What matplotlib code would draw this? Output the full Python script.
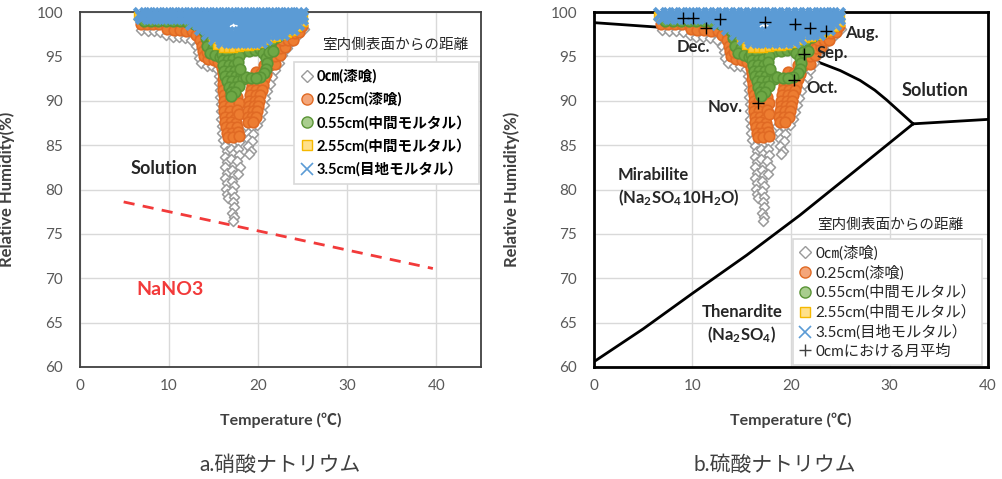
import matplotlib
matplotlib.use('Agg')
import numpy as np
import matplotlib.pyplot as plt
from matplotlib.lines import Line2D

plt.rcParams['font.family'] = ['Lato', 'Noto Sans CJK JP', 'DejaVu Sans']
plt.rcParams['mathtext.default'] = 'regular'

# Measured RH vs temperature, read off the picture (T degC, RH %)
# 0cm (plaster) - grey diamonds
pts_0 = np.array([
    (6.9, 98.0), (7.6, 97.9), (8.3, 97.9), (9.0, 97.8), (9.7, 97.4), (10.4, 97.2), (11.1, 97.2),
    (11.8, 97.1), (12.5, 96.8), (13.0, 96.2), (13.2, 95.5), (13.3, 94.8), (13.6, 94.2), (14.2, 93.9),
    (14.8, 93.9), (15.4, 93.6), (15.6, 92.8), (15.6, 92.0), (15.7, 91.2), (15.7, 90.4), (15.8, 89.6),
    (15.8, 88.8), (15.8, 88.0), (15.9, 87.2), (15.9, 86.4), (16.0, 85.6), (16.6, 85.3), (17.2, 85.2),
    (17.8, 85.3),
    (16.3, 84.9), (16.5, 84.3), (16.3, 83.7), (16.5, 83.1), (16.3, 82.5), (16.5, 81.9), (16.3, 81.3),
    (16.5, 80.7), (16.4, 80.1), (16.5, 79.5), (16.6, 79.0),
    (17.0, 84.6), (17.2, 84.0), (17.0, 83.4), (17.3, 82.8), (17.1, 82.2), (17.3, 81.6), (17.1, 81.0),
    (17.3, 80.4), (17.1, 79.8), (17.3, 79.2), (17.2, 78.6), (17.3, 78.0), (17.1, 77.4), (17.3, 76.9),
    (17.2, 76.4),
    (17.7, 84.6), (17.8, 83.9), (17.6, 83.2), (17.9, 82.5), (17.7, 81.8),
    (18.6, 87.1), (19.3, 87.0), (18.8, 86.4), (19.4, 86.3), (18.9, 85.7), (19.3, 85.5), (18.9, 84.9),
    (19.2, 84.3), (19.0, 84.0),
    (25.1, 98.1), (24.5, 97.4), (23.8, 96.7), (23.2, 95.9), (22.7, 95.1), (22.3, 94.3), (21.9, 93.5),
    (21.6, 92.7), (21.3, 91.9), (21.0, 91.1), (20.8, 90.3), (20.6, 89.5), (20.4, 88.7), (20.2, 87.9),
    (19.9, 87.3),
])

# 0.25cm (plaster) - orange circles
pts_025 = np.array([
    (6.8, 98.7), (7.5, 98.7), (8.2, 98.7), (8.9, 98.7), (9.6, 98.6), (10.3, 98.6), (11.0, 98.6),
    (11.7, 98.6), (12.4, 98.5), (9.8, 98.1), (10.5, 98.0), (11.2, 98.0), (11.9, 97.9), (12.6, 97.9),
    (13.0, 97.4), (13.6, 97.3), (13.5, 96.8), (13.7, 96.2), (13.8, 95.6), (13.9, 95.0), (14.4, 94.7),
    (15.0, 94.6), (15.5, 94.4), (14.3, 96.3), (14.2, 95.5),
    (15.9, 93.7), (16.0, 93.1), (16.5, 93.0), (16.0, 92.5), (16.6, 92.4), (16.1, 91.9), (16.7, 91.8),
    (17.2, 91.8), (16.1, 91.2), (16.7, 91.2), (17.2, 91.3), (16.2, 90.6), (16.8, 90.6), (16.2, 90.0),
    (16.8, 90.0), (16.2, 89.4), (16.8, 89.4), (16.2, 88.8), (16.8, 88.8), (16.3, 88.2), (16.9, 88.2),
    (17.4, 88.0), (16.3, 87.6), (16.9, 87.6), (17.5, 87.5), (16.4, 87.0), (17.0, 87.0), (17.6, 87.0),
    (16.5, 86.4), (17.1, 86.4), (17.7, 86.5), (16.6, 85.9), (17.2, 85.9), (17.8, 86.0),
    (17.6, 90.4), (17.8, 89.7), (17.6, 89.0), (17.8, 88.5),
    (19.7, 93.2), (20.3, 93.1), (20.9, 93.0), (19.5, 92.5), (20.1, 92.4), (20.7, 92.4), (19.3, 91.8),
    (19.9, 91.8), (20.5, 91.8), (19.2, 91.2), (19.8, 91.2), (20.4, 91.2), (19.1, 90.6), (19.7, 90.6),
    (20.2, 90.6), (19.0, 90.0), (19.6, 90.0), (20.1, 90.0), (19.0, 89.4), (19.5, 89.4), (20.0, 89.4),
    (18.9, 88.8), (19.4, 88.8), (19.9, 88.8), (18.8, 88.2), (19.3, 88.2), (19.8, 88.2), (18.9, 87.6),
    (19.4, 87.6),
    (20.7, 94.0), (21.3, 94.0), (21.9, 94.1), (21.3, 95.0), (21.9, 95.0), (22.4, 95.1), (21.9, 96.0),
    (22.5, 96.0), (23.0, 96.1), (22.7, 96.8), (23.3, 96.8), (23.9, 96.9), (23.5, 97.6), (24.1, 97.6),
    (24.6, 97.7), (24.3, 98.3), (24.9, 98.4),
])

# 0.55cm (intermediate mortar) - green circles
pts_055 = np.array([
    (7.2, 99.0), (8.0, 99.0), (8.8, 99.0), (9.6, 99.0), (10.4, 99.0), (11.2, 99.0), (12.0, 98.9),
    (12.8, 98.6),
    (13.9, 97.9), (14.5, 97.6), (15.1, 97.4), (14.1, 97.1), (14.7, 96.8), (15.3, 96.6), (14.3, 96.2),
    (14.9, 96.0), (15.5, 95.8), (14.6, 95.4), (15.2, 95.2), (15.7, 94.9),
    (15.9, 95.3), (16.5, 95.3), (16.0, 94.6), (16.6, 94.6), (17.2, 94.7), (16.1, 94.0), (16.7, 94.0),
    (17.3, 94.0), (16.2, 93.4), (16.8, 93.4), (17.4, 93.4), (16.3, 92.8), (16.9, 92.8), (17.5, 92.8),
    (18.1, 92.9), (16.5, 92.2), (17.1, 92.2), (17.7, 92.2), (18.3, 92.4), (16.7, 91.6), (17.3, 91.6),
    (17.8, 91.7), (16.9, 91.0), (17.4, 91.0), (17.0, 90.5),
    (17.8, 95.6), (18.4, 95.6), (19.0, 95.6), (19.6, 95.7), (20.2, 95.8), (20.8, 96.0),
    (20.5, 95.4), (20.9, 94.8), (21.0, 94.2), (20.9, 93.6), (20.7, 93.1), (20.2, 92.7),
    (18.6, 92.7), (19.2, 92.6), (19.7, 92.6),
    (17.8, 95.0), (17.7, 94.4), (17.9, 93.6),
    (21.3, 96.2), (21.5, 96.9), (22.1, 97.2), (22.7, 97.5), (21.2, 95.5), (21.7, 95.6),
])

# 2.55cm (intermediate mortar) - yellow squares
pts_255 = np.array([
    (15.4, 96.3), (16.0, 96.0), (16.6, 95.9), (17.2, 95.9), (17.8, 96.1), (18.4, 96.2), (19.0, 96.2),
    (19.6, 96.3), (20.2, 96.5), (20.8, 96.8), (21.4, 97.1), (22.0, 97.2), (22.6, 97.4), (23.2, 97.6),
    (23.8, 97.9), (24.4, 98.3), (25.0, 98.9), (25.0, 99.6), (6.5, 99.6), (14.9, 97.0),
])

# 3.5cm (joint mortar) - blue crosses
pts_35 = np.array([
    (6.7, 99.8), (7.4, 99.8), (8.1, 99.8), (8.8, 99.8), (9.5, 99.8), (10.2, 99.8), (10.9, 99.8),
    (11.6, 99.8), (12.3, 99.8), (13.0, 99.8), (13.7, 99.8), (14.4, 99.8), (15.1, 99.8), (15.8, 99.8),
    (16.5, 99.8), (17.2, 99.8), (17.9, 99.8), (18.6, 99.8), (19.3, 99.8), (20.0, 99.8), (20.7, 99.8),
    (21.4, 99.8), (22.1, 99.8), (22.8, 99.8), (23.5, 99.8), (24.2, 99.8), (24.8, 99.8),
    (7.0, 99.4), (7.7, 99.4), (8.4, 99.4), (9.1, 99.4), (9.8, 99.4), (10.5, 99.4), (11.2, 99.4),
    (11.9, 99.4), (12.6, 99.4), (13.3, 99.4), (14.0, 99.4), (14.7, 99.4), (15.4, 99.4), (16.1, 99.4),
    (16.8, 99.4), (17.5, 99.4), (18.1, 99.4), (18.7, 99.4), (19.4, 99.4), (20.1, 99.4), (20.8, 99.4),
    (21.5, 99.4), (22.2, 99.4), (22.9, 99.4), (23.6, 99.4), (24.3, 99.4), (24.8, 99.3),
    (12.6, 98.8), (13.3, 98.8), (14.0, 98.8), (14.7, 98.8), (15.4, 98.8), (16.0, 98.8), (18.3, 98.8),
    (18.9, 98.8), (19.6, 98.8), (20.3, 98.8), (21.0, 98.8), (21.7, 98.8), (22.4, 98.8), (23.1, 98.8),
    (23.8, 98.8), (24.4, 98.8),
    (13.6, 98.2), (14.3, 98.2), (15.0, 98.2), (15.7, 98.2), (16.2, 98.2), (18.3, 98.2), (19.0, 98.2),
    (19.7, 98.2), (20.4, 98.2), (21.1, 98.2), (21.8, 98.2), (22.5, 98.2), (23.2, 98.2), (23.8, 98.2),
    (14.4, 97.6), (15.1, 97.6), (15.8, 97.6), (16.5, 97.6), (17.2, 97.6), (17.9, 97.6), (18.6, 97.6),
    (19.3, 97.6), (20.0, 97.6), (20.7, 97.6), (21.4, 97.6), (22.1, 97.6), (22.7, 97.6),
    (15.2, 97.1), (15.9, 97.1), (16.6, 97.1), (17.3, 97.1), (18.0, 97.1), (18.7, 97.1), (19.4, 97.1),
    (20.1, 97.1), (20.8, 97.1),
    (16.0, 96.7), (16.7, 96.7), (17.4, 96.7), (18.1, 96.7), (18.8, 96.7), (19.5, 96.7), (20.2, 96.7),
])

# monthly means at 0cm
mon_t = [9.0, 10.1, 11.4, 12.8, 17.4, 20.4, 21.9, 23.6, 21.3, 20.3, 16.7]
mon_rh = [99.3, 99.3, 98.2, 99.2, 98.9, 98.7, 98.2, 97.9, 95.3, 92.3, 89.8]

# NaNO3 deliquescence line
nano3_t = [4.9, 39.6]
nano3_rh = [78.6, 71.1]

# Na2SO4 phase boundaries
mira_sol_t = [0, 6.4, 9.0, 14.0, 17.9, 22.9, 25.0, 27.0, 28.5, 29.7, 31.0, 32.4]
mira_sol_rh = [98.8, 98.3, 98.0, 97.2, 96.1, 94.3, 93.4, 92.3, 91.2, 90.1, 88.8, 87.4]
then_sol_t = [32.4, 40.0]
then_sol_rh = [87.4, 87.9]
mira_then_t = [0, 5.0, 10.0, 15.5, 20.9, 26.5, 32.4]
mira_then_rh = [60.6, 64.3, 68.3, 72.6, 77.1, 82.1, 87.4]

labels_L = ['0㎝(漆喰)', '0.25cm(漆喰)', '0.55cm(中間モルタル）', '2.55cm(中間モルタル）', '3.5cm(目地モルタル）']
label_mon = '0cmにおける月平均'

styles = [
    dict(marker='D', s=26, facecolors='white', edgecolors='#9A9A9A', linewidths=1.1),
    dict(marker='o', s=58, facecolors='#ED7D31', edgecolors='#E06A24', linewidths=1.2),
    dict(marker='o', s=58, facecolors='#6EA846', edgecolors='#5A9436', linewidths=1.2),
    dict(marker='s', s=40, facecolors='#FFC83A', edgecolors='#F5B800', linewidths=1.0),
    dict(marker='x', s=80, color='#5B9BD5', linewidths=3.0),
]
series = [pts_0, pts_025, pts_055, pts_255, pts_35]

fig = plt.figure(figsize=(10.03, 4.79), dpi=100)
axL = fig.add_axes([80/1003, 1-367/479, 401/1003, 355/479])
axR = fig.add_axes([594/1003, 1-367/479, 394/1003, 355/479])

for ax in (axL, axR):
    for pts, st in zip(series, styles):
        ax.scatter(pts[:, 0], pts[:, 1], clip_on=False, zorder=3, **st)
    ax.set_ylim(60, 100)
    ax.set_yticks(np.arange(60, 101, 5))
    ax.set_xticks([0, 10, 20, 30, 40])
    ax.grid(True, color='#D9D9D9', lw=1)
    ax.set_axisbelow(True)
    ax.tick_params(length=0, labelsize=11, labelcolor='#595959')
    ax.tick_params(axis='y', pad=12)
    ax.tick_params(axis='x', pad=9)
    ax.set_xlabel('Temperature (℃)', fontsize=11.5, fontweight='bold', color='#404040')
    ax.set_ylabel('Relative Humidity(%)', fontsize=12, fontweight='bold', color='#404040')

axL.set_xlim(0, 45)
axR.set_xlim(0, 40)
axL.xaxis.set_label_coords(0.5, -0.128)
axR.xaxis.set_label_coords(0.5, -0.128)
axL.yaxis.set_label_coords(-0.162, 0.5)
axR.yaxis.set_label_coords(-0.188, 0.5)

for sp in axL.spines.values():
    sp.set_color('#404040')
    sp.set_linewidth(1.3)
for sp in axR.spines.values():
    sp.set_color('black')
    sp.set_linewidth(2)

# left: NaNO3
axL.plot(nano3_t, nano3_rh, color='#F23A3A', lw=2, dashes=(4, 3), zorder=2)
axL.text(9.4, 82.4, 'Solution', fontsize=13, fontweight='bold', color='#262626', ha='center', va='center')
axL.text(10.1, 68.7, 'NaNO3', fontsize=14, fontweight='bold', color='#F23A3A', ha='center', va='center')

# right: Na2SO4 phase diagram
axR.plot(mira_sol_t, mira_sol_rh, color='black', lw=2, zorder=2)
axR.plot(then_sol_t, then_sol_rh, color='black', lw=2, zorder=2)
axR.plot(mira_then_t, mira_then_rh, color='black', lw=2, zorder=2)
axR.scatter(mon_t, mon_rh, marker='+', s=70, color='black', linewidths=1, zorder=4, clip_on=False)

kw = dict(fontsize=12, fontweight='bold', color='#262626', va='center')
axR.text(25.5, 97.6, 'Aug.', ha='left', **kw)
axR.text(22.6, 95.4, 'Sep.', ha='left', **kw)
axR.text(21.6, 91.4, 'Oct.', ha='left', **kw)
axR.text(11.5, 89.3, 'Nov.', ha='left', **kw)
axR.text(8.4, 96.1, 'Dec.', ha='left', **kw)
axR.text(34.6, 91.1, 'Solution', ha='center', fontsize=13, fontweight='bold', color='#262626', va='center')
axR.text(2.4, 81.6, 'Mirabilite', ha='left', **kw)
axR.text(2.4, 79.1, '(Na$_2$SO$_4$10H$_2$O)', ha='left', **kw)
axR.text(15.0, 66.2, 'Thenardite', ha='center', **kw)
axR.text(15.0, 63.6, '(Na$_2$SO$_4$)', ha='center', **kw)

# legends
def proxy(st, ms):
    if st['marker'] == 'x':
        return Line2D([], [], ls='none', marker='x', ms=ms, mec=st['color'], mew=1.2)
    return Line2D([], [], ls='none', marker=st['marker'], ms=ms, mfc=st['facecolors'],
                  mec=st['edgecolors'], mew=1.0)

sizes = [6, 8, 8, 7, 9]
handles = [proxy(st, ms) for st, ms in zip(styles, sizes)]
handles[1].set_markerfacecolor('#F4A67A')
handles[2].set_markerfacecolor('#A9CD8E')
handles[3].set_markerfacecolor('#FFE08A')

legL = fig.legend(handles, labels_L, loc='upper left', bbox_to_anchor=(294/1003, 1-62/479),
                  frameon=True, fancybox=False, edgecolor='#D9D9D9', framealpha=1,
                  prop=dict(size=10.5, weight='bold'), labelspacing=0.58, handlelength=0.8,
                  handletextpad=0.25, borderpad=0.5, borderaxespad=0)
legL.get_frame().set_linewidth(1.2)
fig.text(395/1003, 1-45/479, '室内側表面からの距離', fontsize=10.5, ha='center', va='center', color='#262626')

handR = handles + [Line2D([], [], ls='none', marker='+', ms=8, mec='#404040', mew=1)]
legR = fig.legend(handR, labels_L + [label_mon], loc='upper left',
                  bbox_to_anchor=(793/1003, 1-239/479), frameon=True, fancybox=False,
                  edgecolor='#D9D9D9', framealpha=1, prop=dict(size=11), labelspacing=0.3,
                  handlelength=0.8, handletextpad=0.25, borderpad=0.4, borderaxespad=0)
legR.get_frame().set_linewidth(1.2)
for t in legR.get_texts():
    t.set_color('#262626')
fig.text(890/1003, 1-225/479, '室内側表面からの距離', fontsize=10.5, ha='center', va='center', color='#262626')

fig.text(280/1003, 1-465/479, 'a.硝酸ナトリウム', fontsize=15, ha='center', va='center', color='#404040')
fig.text(775/1003, 1-465/479, 'b.硫酸ナトリウム', fontsize=15, ha='center', va='center', color='#404040')

fig.savefig('out.png', dpi=100)
